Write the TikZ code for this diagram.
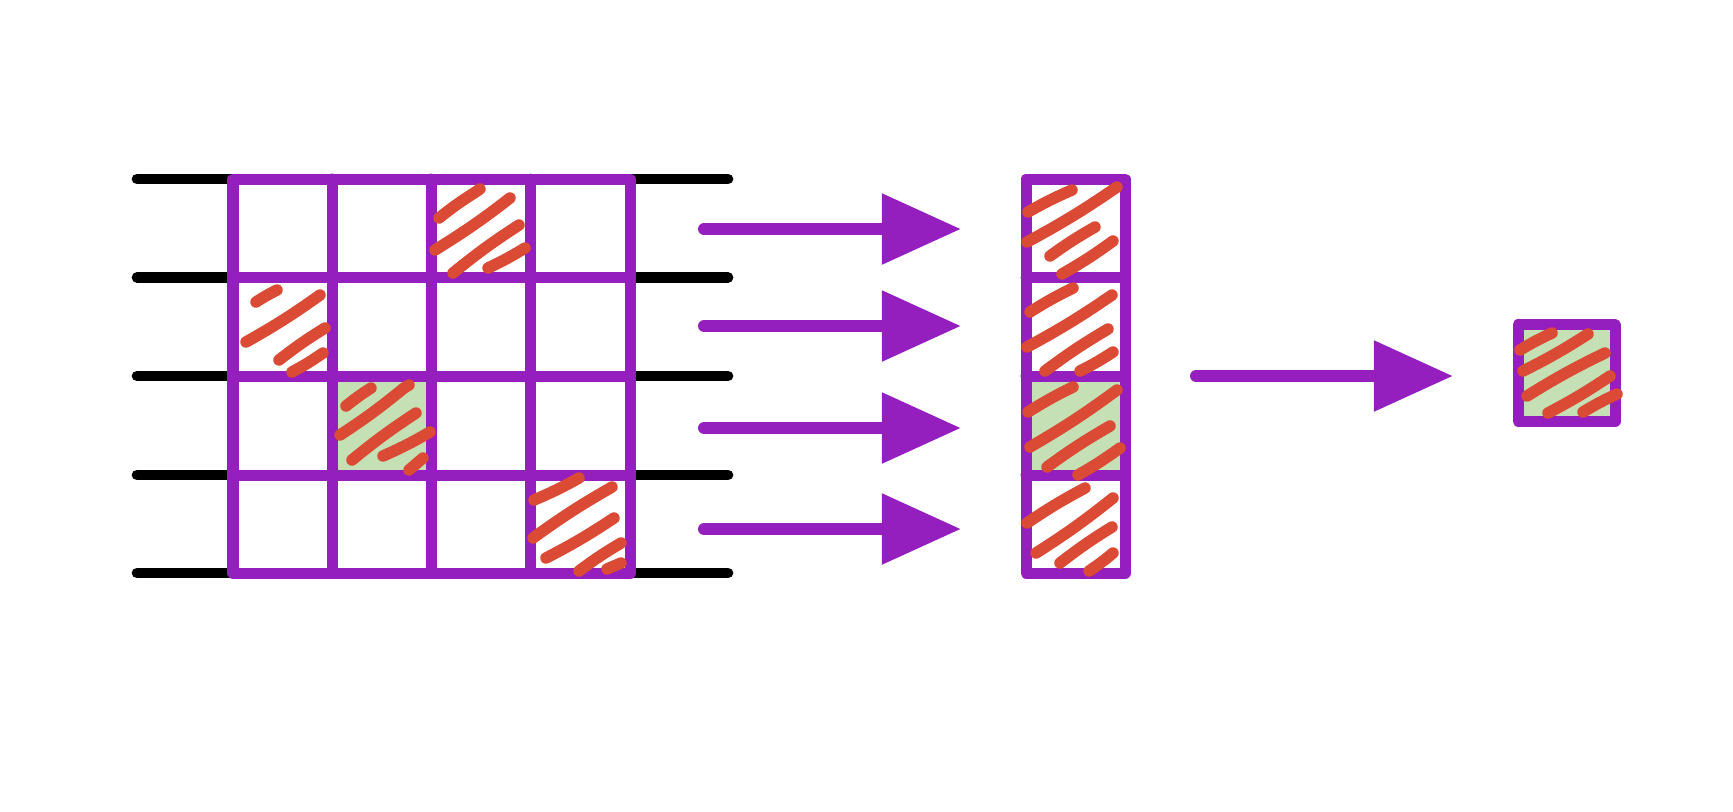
\documentclass[tikz,border=0pt]{standalone}
\usetikzlibrary{arrows.meta}

\definecolor{gridpurple}{RGB}{148,30,190}
\definecolor{hatchred}{RGB}{218,74,52}
\definecolor{cellgreen}{RGB}{197,224,180}

\begin{document}
\begin{tikzpicture}[x=0.01cm,y=-0.01cm,
    wire/.style={line width=0.107cm, line cap=round},
    gridline/.style={draw=gridpurple, line width=0.11cm, line cap=round, line join=round},
    scribble/.style={draw=hatchred, line width=0.115cm, line cap=round, line join=round},
    bigarrow/.style={draw=gridpurple, fill=gridpurple, line width=0.12cm, line cap=round,
        -{Triangle[length=0.79cm,width=0.68cm]}}]

    % Keep the page the size of the reference
    \useasboundingbox (0,0) rectangle (1733,811);

    % Positions of the grid lines
    \def\xa{233} \def\xb{332} \def\xc{431} \def\xd{530.5} \def\xe{630}
    \def\ya{179} \def\yb{277.5} \def\yc{376} \def\yd{475} \def\ye{573}

    % Green cells (drawn first so the lines sit on top)
    \fill[cellgreen] (\xb,\yc) rectangle (\xc,\yd);
    \fill[cellgreen] (1026,\yc) rectangle (1125,\yd);
    \fill[cellgreen] (1518,324.5) rectangle (1615,421);

    % Black wires running behind the grid
    \draw[wire] (137,\ya) -- (728,\ya);
    \draw[wire] (137,\yb) -- (728,\yb);
    \draw[wire] (137,\yc) -- (728,\yc);
    \draw[wire] (137,\yd) -- (728,\yd);
    \draw[wire] (137,\ye) -- (728,\ye);

    % The 4x4 grid
    \draw[gridline] (\xa,\ya) rectangle (\xe,\ye);
    \draw[gridline] (\xb,\ya) -- (\xb,\ye);
    \draw[gridline] (\xc,\ya) -- (\xc,\ye);
    \draw[gridline] (\xd,\ya) -- (\xd,\ye);
    \draw[gridline] (\xa,\yb) -- (\xe,\yb);
    \draw[gridline] (\xa,\yc) -- (\xe,\yc);
    \draw[gridline] (\xa,\yd) -- (\xe,\yd);

    % The column of four cells
    \draw[gridline] (1026,\ya) rectangle (1125,\ye);
    \draw[gridline] (1026,\yb) -- (1125,\yb);
    \draw[gridline] (1026,\yc) -- (1125,\yc);
    \draw[gridline] (1026,\yd) -- (1125,\yd);

    % The single cell on the right
    \draw[gridline] (1518,324.5) rectangle (1615,421);

    % Arrow end points
    \coordinate (r1s) at (704,229);   \coordinate (r1e) at (961,229);
    \coordinate (r2s) at (704,326);   \coordinate (r2e) at (961,326);
    \coordinate (r3s) at (704,428);   \coordinate (r3e) at (961,428);
    \coordinate (r4s) at (704,529);   \coordinate (r4e) at (961,529);
    \coordinate (cs) at (1196,376);   \coordinate (ce) at (1453,376);

    % Arrows
    \draw[bigarrow] (r1s) -- (r1e);
    \draw[bigarrow] (r2s) -- (r2e);
    \draw[bigarrow] (r3s) -- (r3e);
    \draw[bigarrow] (r4s) -- (r4e);
    \draw[bigarrow] (cs) -- (ce);

    % Hatching in the grid: row 1, column 3
    \draw[scribble] (439,218) to[bend left=3] (474,193) -- (480,189);
    \draw[scribble] (435,250) to[bend right=3] (510,198);
    \draw[scribble] (453,273) to[bend left=3] (519,225);
    \draw[scribble] (488,268) to[bend right=3] (525,248);

    % Row 2, column 1
    \draw[scribble] (256,302) to[bend left=3] (277,290);
    \draw[scribble] (246,342) to[bend right=3] (320,295);
    \draw[scribble] (279,360) to[bend left=3] (325,328);
    \draw[scribble] (292,372) to[bend right=3] (323,353);

    % Row 3, column 2
    \draw[scribble] (346,406) to[bend left=3] (371,388);
    \draw[scribble] (340,435) to[bend right=3] (404,388) -- (409,385);
    \draw[scribble] (352,460) to[bend left=3] (416,413);
    \draw[scribble] (383,456) to[bend right=3] (430,432);
    \draw[scribble] (409,470) to (423,458);

    % Row 4, column 4
    \draw[scribble] (534,500) to[bend right=3] (579,478);
    \draw[scribble] (533,538) to[bend left=3] (612,487);
    \draw[scribble] (546,558) to[bend right=3] (614,518);
    \draw[scribble] (579,571) to[bend left=3] (621,543);
    \draw[scribble] (607,569) to (621,563);

    % Hatching in the column
    \draw[scribble] (1028,212) to[bend left=3] (1072,190);
    \draw[scribble] (1027,242) to[bend right=3] (1117,187);
    \draw[scribble] (1050,256) to[bend left=3] (1095,227);
    \draw[scribble] (1062,274) to[bend right=3] (1113,241);

    \draw[scribble] (1030,312) to[bend left=3] (1073,288);
    \draw[scribble] (1027,347) to[bend right=3] (1112,295);
    \draw[scribble] (1045,371) to[bend left=3] (1108,329);
    \draw[scribble] (1080,371) to[bend right=3] (1113,352);

    \draw[scribble] (1028,412) to[bend left=3] (1073,387);
    \draw[scribble] (1030,447) to[bend right=3] (1117,390);
    \draw[scribble] (1047,467) to[bend left=3] (1110,426);
    \draw[scribble] (1078,475) to[bend right=3] (1120,448);

    \draw[scribble] (1027,523) to[bend left=3] (1085,488);
    \draw[scribble] (1036,553) to[bend right=3] (1113,498);
    \draw[scribble] (1060,563) to[bend left=3] (1112,527);
    \draw[scribble] (1089,571) to[bend right=3] (1113,553);

    % Hatching in the single cell
    \draw[scribble] (1520,350) to[bend left=3] (1552,333);
    \draw[scribble] (1523,371) to[bend right=3] (1588,334);
    \draw[scribble] (1527,396) to[bend left=3] (1605,353);
    \draw[scribble] (1548,413) to[bend right=3] (1610,376);
    \draw[scribble] (1583,412) to[bend left=3] (1617,394);

\end{tikzpicture}
\end{document}
